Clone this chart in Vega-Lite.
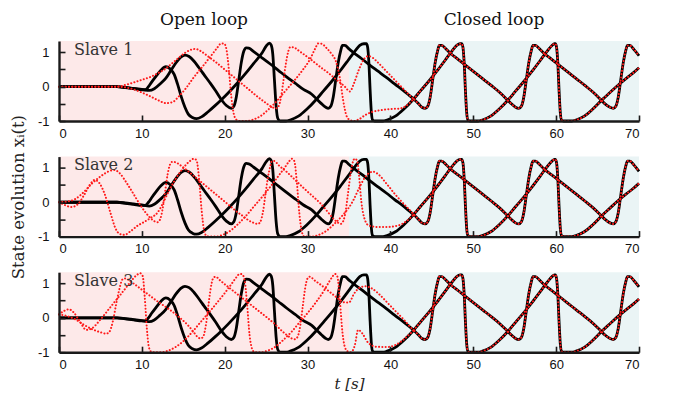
{
  "$schema": "https://vega.github.io/schema/vega-lite/v6.json",
  "background": "white",
  "padding": {"left": 10, "top": 10, "right": 5, "bottom": 5},
  "config": {
    "view": {"stroke": null},
    "axis": {"grid": false, "domainColor": "#1a1a1a", "domainWidth": 2.4, "tickColor": "#1a1a1a", "tickWidth": 1.6, "labelFont": "Liberation Sans", "labelFontSize": 13, "labelColor": "#111", "titleFont": "DejaVu Serif", "titleFontSize": 15, "titleFontWeight": "normal", "titleColor": "#222"}
  },
  "datasets": {
    "bands": [{"a": 0, "b": 35, "ph": "open"}, {"a": 35, "b": 70, "ph": "closed"}],
    "black": [
      {"c":"C1","t":0,"x":0},{"c":"C1","t":3,"x":0},{"c":"C1","t":6,"x":0},{"c":"C1","t":7,"x":0},{"c":"C1","t":8,"x":-0.03},{"c":"C1","t":9,"x":-0.06},{"c":"C1","t":10,"x":-0.09},{"c":"C1","t":10.4,"x":-0.09},{"c":"C1","t":10.8,"x":0.0},{"c":"C1","t":11.2,"x":0.14},{"c":"C1","t":11.7,"x":0.3},{"c":"C1","t":12.3,"x":0.48},{"c":"C1","t":12.9,"x":0.58},{"c":"C1","t":13.4,"x":0.52},{"c":"C1","t":13.9,"x":0.36},{"c":"C1","t":14.3,"x":0.08},{"c":"C1","t":14.75,"x":-0.29},{"c":"C1","t":15.2,"x":-0.6},{"c":"C1","t":15.6,"x":-0.8},{"c":"C1","t":16.1,"x":-0.9},{"c":"C1","t":16.6,"x":-0.93},{"c":"C1","t":17.2,"x":-0.88},{"c":"C1","t":18,"x":-0.73},{"c":"C1","t":18.8,"x":-0.56},{"c":"C1","t":19.6,"x":-0.38},{"c":"C1","t":20.5,"x":-0.16},{"c":"C1","t":21.5,"x":0.1},{"c":"C1","t":22.5,"x":0.38},{"c":"C1","t":23.5,"x":0.68},{"c":"C1","t":24.5,"x":0.98},{"c":"C1","t":25.0,"x":1.18},{"c":"C1","t":25.4,"x":1.27},{"c":"C1","t":25.6,"x":1.22},{"c":"C1","t":25.8,"x":0.95},{"c":"C1","t":26.0,"x":0.2},{"c":"C1","t":26.2,"x":-0.55},{"c":"C1","t":26.4,"x":-0.92},{"c":"C1","t":26.7,"x":-1.0},{"c":"C1","t":27.4,"x":-1.0},{"c":"C1","t":27.9,"x":-0.97},{"c":"C1","t":28.9,"x":-0.86},{"c":"C1","t":29.9,"x":-0.66},{"c":"C1","t":31.1,"x":-0.36},{"c":"C1","t":31.9,"x":-0.13},{"c":"C1","t":32.9,"x":0.15},{"c":"C1","t":33.9,"x":0.45},{"c":"C1","t":34.9,"x":0.77},{"c":"C1","t":35.7,"x":1.03},{"c":"C1","t":36.3,"x":1.2},{"c":"C1","t":36.8,"x":1.25},{"c":"C1","t":37.1,"x":1.25},{"c":"C1","t":37.25,"x":1.15},{"c":"C1","t":37.4,"x":0.7},{"c":"C1","t":37.55,"x":-0.1},{"c":"C1","t":37.7,"x":-0.75},{"c":"C1","t":37.85,"x":-0.97},{"c":"C1","t":38.1,"x":-1.0},{"c":"C1","t":39.1,"x":-1.0},{"c":"C1","t":39.6,"x":-0.97},{"c":"C1","t":40.6,"x":-0.86},{"c":"C1","t":41.6,"x":-0.66},{"c":"C1","t":42.8,"x":-0.36},{"c":"C1","t":43.6,"x":-0.13},{"c":"C1","t":44.6,"x":0.15},{"c":"C1","t":45.6,"x":0.45},{"c":"C1","t":46.6,"x":0.77},{"c":"C1","t":47.4,"x":1.03},{"c":"C1","t":48.0,"x":1.2},{"c":"C1","t":48.4,"x":1.25},{"c":"C1","t":48.6,"x":1.25},{"c":"C1","t":48.75,"x":1.15},{"c":"C1","t":48.9,"x":0.7},{"c":"C1","t":49.05,"x":-0.1},{"c":"C1","t":49.2,"x":-0.75},{"c":"C1","t":49.35,"x":-0.97},{"c":"C1","t":49.6,"x":-1.0},{"c":"C1","t":50.6,"x":-1.0},{"c":"C1","t":51.1,"x":-0.97},{"c":"C1","t":52.1,"x":-0.86},{"c":"C1","t":53.1,"x":-0.66},{"c":"C1","t":54.3,"x":-0.36},{"c":"C1","t":55.1,"x":-0.13},{"c":"C1","t":56.1,"x":0.15},{"c":"C1","t":57.1,"x":0.45},{"c":"C1","t":58.1,"x":0.77},{"c":"C1","t":58.9,"x":1.03},{"c":"C1","t":59.5,"x":1.2},{"c":"C1","t":59.8,"x":1.25},{"c":"C1","t":59.9,"x":1.25},{"c":"C1","t":60.05,"x":1.15},{"c":"C1","t":60.2,"x":0.7},{"c":"C1","t":60.35,"x":-0.1},{"c":"C1","t":60.5,"x":-0.75},{"c":"C1","t":60.65,"x":-0.97},{"c":"C1","t":60.9,"x":-1.0},{"c":"C1","t":61.9,"x":-1.0},{"c":"C1","t":62.4,"x":-0.97},{"c":"C1","t":63.4,"x":-0.86},{"c":"C1","t":64.4,"x":-0.66},{"c":"C1","t":65.6,"x":-0.37},{"c":"C1","t":66.5,"x":-0.17},{"c":"C1","t":67.5,"x":0.05},{"c":"C1","t":68.5,"x":0.25},{"c":"C1","t":69.3,"x":0.4},{"c":"C1","t":70,"x":0.55},
      {"c":"C2","t":0,"x":0},{"c":"C2","t":3,"x":0},{"c":"C2","t":6,"x":0},{"c":"C2","t":7,"x":0},{"c":"C2","t":8,"x":-0.02},{"c":"C2","t":9,"x":-0.05},{"c":"C2","t":10,"x":-0.08},{"c":"C2","t":10.9,"x":-0.11},{"c":"C2","t":11.5,"x":-0.06},{"c":"C2","t":12.2,"x":0.08},{"c":"C2","t":12.9,"x":0.25},{"c":"C2","t":13.5,"x":0.47},{"c":"C2","t":14.1,"x":0.69},{"c":"C2","t":14.7,"x":0.86},{"c":"C2","t":15.2,"x":0.92},{"c":"C2","t":15.7,"x":0.88},{"c":"C2","t":16.3,"x":0.74},{"c":"C2","t":16.9,"x":0.55},{"c":"C2","t":17.5,"x":0.35},{"c":"C2","t":18.2,"x":0.12},{"c":"C2","t":18.9,"x":-0.12},{"c":"C2","t":19.6,"x":-0.38},{"c":"C2","t":20.2,"x":-0.55},{"c":"C2","t":20.8,"x":-0.63},{"c":"C2","t":21.1,"x":-0.57},{"c":"C2","t":21.4,"x":-0.3},{"c":"C2","t":21.7,"x":0.2},{"c":"C2","t":22.0,"x":0.7},{"c":"C2","t":22.3,"x":1.03},{"c":"C2","t":22.6,"x":1.13},{"c":"C2","t":22.9,"x":1.12},{"c":"C2","t":23.5,"x":1.02},{"c":"C2","t":24.5,"x":0.84},{"c":"C2","t":25.5,"x":0.66},{"c":"C2","t":26.5,"x":0.47},{"c":"C2","t":27.5,"x":0.28},{"c":"C2","t":28.5,"x":0.1},{"c":"C2","t":29.5,"x":-0.08},{"c":"C2","t":30.5,"x":-0.22},{"c":"C2","t":31.1,"x":-0.36},{"c":"C2","t":31.7,"x":-0.5},{"c":"C2","t":32.2,"x":-0.6},{"c":"C2","t":32.5,"x":-0.63},{"c":"C2","t":32.8,"x":-0.57},{"c":"C2","t":33.1,"x":-0.3},{"c":"C2","t":33.4,"x":0.2},{"c":"C2","t":33.7,"x":0.7},{"c":"C2","t":34.0,"x":1.05},{"c":"C2","t":34.2,"x":1.2},{"c":"C2","t":34.5,"x":1.2},{"c":"C2","t":35.0,"x":1.1},{"c":"C2","t":35.5,"x":1.0},{"c":"C2","t":36.5,"x":0.82},{"c":"C2","t":37.5,"x":0.63},{"c":"C2","t":38.5,"x":0.45},{"c":"C2","t":39.5,"x":0.27},{"c":"C2","t":40.5,"x":0.08},{"c":"C2","t":41.5,"x":-0.1},{"c":"C2","t":42.3,"x":-0.26},{"c":"C2","t":42.9,"x":-0.38},{"c":"C2","t":43.4,"x":-0.5},{"c":"C2","t":43.8,"x":-0.6},{"c":"C2","t":44.2,"x":-0.63},{"c":"C2","t":44.5,"x":-0.57},{"c":"C2","t":44.8,"x":-0.3},{"c":"C2","t":45.1,"x":0.2},{"c":"C2","t":45.4,"x":0.7},{"c":"C2","t":45.7,"x":1.05},{"c":"C2","t":45.9,"x":1.2},{"c":"C2","t":46.2,"x":1.2},{"c":"C2","t":46.7,"x":1.1},{"c":"C2","t":47.2,"x":0.98},{"c":"C2","t":48.2,"x":0.79},{"c":"C2","t":49.2,"x":0.6},{"c":"C2","t":50.2,"x":0.41},{"c":"C2","t":51.2,"x":0.22},{"c":"C2","t":52.2,"x":0.03},{"c":"C2","t":53.2,"x":-0.17},{"c":"C2","t":54.1,"x":-0.38},{"c":"C2","t":54.6,"x":-0.5},{"c":"C2","t":55.1,"x":-0.6},{"c":"C2","t":55.5,"x":-0.63},{"c":"C2","t":55.8,"x":-0.57},{"c":"C2","t":56.1,"x":-0.3},{"c":"C2","t":56.4,"x":0.2},{"c":"C2","t":56.7,"x":0.7},{"c":"C2","t":57.0,"x":1.05},{"c":"C2","t":57.2,"x":1.2},{"c":"C2","t":57.5,"x":1.2},{"c":"C2","t":58.0,"x":1.1},{"c":"C2","t":58.5,"x":0.98},{"c":"C2","t":59.5,"x":0.79},{"c":"C2","t":60.5,"x":0.6},{"c":"C2","t":61.5,"x":0.41},{"c":"C2","t":62.5,"x":0.22},{"c":"C2","t":63.5,"x":0.03},{"c":"C2","t":64.5,"x":-0.17},{"c":"C2","t":65.4,"x":-0.38},{"c":"C2","t":65.9,"x":-0.5},{"c":"C2","t":66.5,"x":-0.6},{"c":"C2","t":66.9,"x":-0.63},{"c":"C2","t":67.2,"x":-0.57},{"c":"C2","t":67.5,"x":-0.3},{"c":"C2","t":67.8,"x":0.2},{"c":"C2","t":68.1,"x":0.7},{"c":"C2","t":68.4,"x":1.05},{"c":"C2","t":68.6,"x":1.2},{"c":"C2","t":68.9,"x":1.2},{"c":"C2","t":69.4,"x":1.08},{"c":"C2","t":70,"x":0.9}
    ],
    "red": [
      {"p":1,"c":"R1","t":0,"x":0},{"p":1,"c":"R1","t":3,"x":0},{"p":1,"c":"R1","t":6,"x":0},{"p":1,"c":"R1","t":7,"x":0},{"p":1,"c":"R1","t":8,"x":-0.02},{"p":1,"c":"R1","t":9,"x":-0.08},{"p":1,"c":"R1","t":10,"x":-0.17},{"p":1,"c":"R1","t":11,"x":-0.28},{"p":1,"c":"R1","t":12,"x":-0.4},{"p":1,"c":"R1","t":12.9,"x":-0.48},{"p":1,"c":"R1","t":13.7,"x":-0.45},{"p":1,"c":"R1","t":14.4,"x":-0.3},{"p":1,"c":"R1","t":15.3,"x":-0.05},{"p":1,"c":"R1","t":16.2,"x":0.25},{"p":1,"c":"R1","t":17.2,"x":0.55},{"p":1,"c":"R1","t":18.2,"x":0.85},{"p":1,"c":"R1","t":19.0,"x":1.1},{"p":1,"c":"R1","t":19.6,"x":1.26},{"p":1,"c":"R1","t":19.9,"x":1.26},{"p":1,"c":"R1","t":20.2,"x":1.1},{"p":1,"c":"R1","t":20.5,"x":0.5},{"p":1,"c":"R1","t":20.8,"x":-0.3},{"p":1,"c":"R1","t":21.1,"x":-0.8},{"p":1,"c":"R1","t":21.4,"x":-0.96},{"p":1,"c":"R1","t":21.8,"x":-1.0},{"p":1,"c":"R1","t":22.8,"x":-1.0},{"p":1,"c":"R1","t":23.3,"x":-0.97},{"p":1,"c":"R1","t":24.3,"x":-0.86},{"p":1,"c":"R1","t":25.3,"x":-0.66},{"p":1,"c":"R1","t":26.5,"x":-0.36},{"p":1,"c":"R1","t":27.3,"x":-0.13},{"p":1,"c":"R1","t":28.3,"x":0.15},{"p":1,"c":"R1","t":29.3,"x":0.45},{"p":1,"c":"R1","t":30.3,"x":0.8},{"p":1,"c":"R1","t":30.9,"x":1.1},{"p":1,"c":"R1","t":31.3,"x":1.26},{"p":1,"c":"R1","t":31.7,"x":1.25},{"p":1,"c":"R1","t":32.3,"x":1.12},{"p":1,"c":"R1","t":32.9,"x":0.95},{"p":1,"c":"R1","t":33.4,"x":0.75},{"p":1,"c":"R1","t":33.9,"x":0.25},{"p":1,"c":"R1","t":34.3,"x":-0.4},{"p":1,"c":"R1","t":34.7,"x":-0.85},{"p":1,"c":"R1","t":35.1,"x":-0.97},{"p":1,"c":"R1","t":35.6,"x":-1.0},{"p":1,"c":"R1","t":36.2,"x":-0.95},{"p":1,"c":"R1","t":37.0,"x":-0.82},{"p":1,"c":"R1","t":37.9,"x":-0.73},{"p":1,"c":"R1","t":39.0,"x":-0.68},{"p":1,"c":"R1","t":40.0,"x":-0.65},{"p":1,"c":"R1","t":41.0,"x":-0.64},{"p":1,"c":"R1","t":41.6,"x":-0.6},{"p":1,"c":"R1","t":42.3,"x":-0.48},{"p":1,"c":"R1","t":42.8,"x":-0.36},
      {"p":1,"c":"R2","t":0,"x":0},{"p":1,"c":"R2","t":3,"x":0},{"p":1,"c":"R2","t":6,"x":0},{"p":1,"c":"R2","t":7,"x":0},{"p":1,"c":"R2","t":8,"x":0.05},{"p":1,"c":"R2","t":9,"x":0.12},{"p":1,"c":"R2","t":10,"x":0.2},{"p":1,"c":"R2","t":11,"x":0.28},{"p":1,"c":"R2","t":12,"x":0.4},{"p":1,"c":"R2","t":13,"x":0.55},{"p":1,"c":"R2","t":13.7,"x":0.69},{"p":1,"c":"R2","t":14.5,"x":0.85},{"p":1,"c":"R2","t":15.3,"x":1.0},{"p":1,"c":"R2","t":16.0,"x":1.08},{"p":1,"c":"R2","t":16.5,"x":1.1},{"p":1,"c":"R2","t":17.0,"x":1.05},{"p":1,"c":"R2","t":18,"x":0.88},{"p":1,"c":"R2","t":19,"x":0.7},{"p":1,"c":"R2","t":20,"x":0.5},{"p":1,"c":"R2","t":21,"x":0.3},{"p":1,"c":"R2","t":22,"x":0.1},{"p":1,"c":"R2","t":23,"x":-0.1},{"p":1,"c":"R2","t":24,"x":-0.3},{"p":1,"c":"R2","t":25,"x":-0.48},{"p":1,"c":"R2","t":25.6,"x":-0.58},{"p":1,"c":"R2","t":26.2,"x":-0.63},{"p":1,"c":"R2","t":26.5,"x":-0.57},{"p":1,"c":"R2","t":26.8,"x":-0.3},{"p":1,"c":"R2","t":27.1,"x":0.2},{"p":1,"c":"R2","t":27.4,"x":0.7},{"p":1,"c":"R2","t":27.7,"x":1.05},{"p":1,"c":"R2","t":27.9,"x":1.15},{"p":1,"c":"R2","t":28.3,"x":1.15},{"p":1,"c":"R2","t":28.8,"x":1.07},{"p":1,"c":"R2","t":29.5,"x":0.95},{"p":1,"c":"R2","t":30.5,"x":0.77},{"p":1,"c":"R2","t":31.5,"x":0.58},{"p":1,"c":"R2","t":32.5,"x":0.4},{"p":1,"c":"R2","t":33.5,"x":0.2},{"p":1,"c":"R2","t":34.5,"x":0.0},{"p":1,"c":"R2","t":35.1,"x":-0.14},{"p":1,"c":"R2","t":35.6,"x":0.1},{"p":1,"c":"R2","t":36.2,"x":0.5},{"p":1,"c":"R2","t":36.8,"x":0.8},{"p":1,"c":"R2","t":37.3,"x":0.89},{"p":1,"c":"R2","t":37.8,"x":0.85},{"p":1,"c":"R2","t":38.5,"x":0.7},{"p":1,"c":"R2","t":39.5,"x":0.45},{"p":1,"c":"R2","t":40.5,"x":0.2},{"p":1,"c":"R2","t":41.5,"x":-0.05},{"p":1,"c":"R2","t":42.3,"x":-0.25},{"p":1,"c":"R2","t":42.9,"x":-0.38},
      {"p":2,"c":"R1","t":0,"x":0},{"p":2,"c":"R1","t":0.7,"x":-0.08},{"p":2,"c":"R1","t":1.5,"x":-0.14},{"p":2,"c":"R1","t":2.3,"x":-0.05},{"p":2,"c":"R1","t":3.0,"x":0.2},{"p":2,"c":"R1","t":3.7,"x":0.5},{"p":2,"c":"R1","t":4.3,"x":0.65},{"p":2,"c":"R1","t":4.9,"x":0.55},{"p":2,"c":"R1","t":5.5,"x":0.25},{"p":2,"c":"R1","t":6.2,"x":-0.3},{"p":2,"c":"R1","t":6.8,"x":-0.75},{"p":2,"c":"R1","t":7.3,"x":-0.92},{"p":2,"c":"R1","t":7.9,"x":-0.95},{"p":2,"c":"R1","t":8.6,"x":-0.85},{"p":2,"c":"R1","t":9.5,"x":-0.68},{"p":2,"c":"R1","t":10.3,"x":-0.57},{"p":2,"c":"R1","t":11.1,"x":-0.45},{"p":2,"c":"R1","t":11.9,"x":-0.3},{"p":2,"c":"R1","t":12.5,"x":-0.05},{"p":2,"c":"R1","t":13.2,"x":0.3},{"p":2,"c":"R1","t":14.0,"x":0.65},{"p":2,"c":"R1","t":15.0,"x":1.0},{"p":2,"c":"R1","t":15.8,"x":1.2},{"p":2,"c":"R1","t":16.3,"x":1.27},{"p":2,"c":"R1","t":16.6,"x":1.22},{"p":2,"c":"R1","t":16.9,"x":0.7},{"p":2,"c":"R1","t":17.2,"x":-0.2},{"p":2,"c":"R1","t":17.5,"x":-0.8},{"p":2,"c":"R1","t":17.8,"x":-0.98},{"p":2,"c":"R1","t":18.2,"x":-1.0},{"p":2,"c":"R1","t":19.0,"x":-1.0},{"p":2,"c":"R1","t":19.5,"x":-0.97},{"p":2,"c":"R1","t":20.5,"x":-0.86},{"p":2,"c":"R1","t":21.5,"x":-0.66},{"p":2,"c":"R1","t":22.7,"x":-0.36},{"p":2,"c":"R1","t":23.5,"x":-0.13},{"p":2,"c":"R1","t":24.5,"x":0.15},{"p":2,"c":"R1","t":25.5,"x":0.45},{"p":2,"c":"R1","t":26.5,"x":0.77},{"p":2,"c":"R1","t":27.3,"x":1.03},{"p":2,"c":"R1","t":27.8,"x":1.2},{"p":2,"c":"R1","t":28.1,"x":1.27},{"p":2,"c":"R1","t":28.4,"x":1.2},{"p":2,"c":"R1","t":28.7,"x":0.6},{"p":2,"c":"R1","t":29.0,"x":-0.3},{"p":2,"c":"R1","t":29.3,"x":-0.85},{"p":2,"c":"R1","t":29.6,"x":-1.0},{"p":2,"c":"R1","t":30.6,"x":-1.0},{"p":2,"c":"R1","t":31.1,"x":-0.97},{"p":2,"c":"R1","t":32.1,"x":-0.86},{"p":2,"c":"R1","t":33.1,"x":-0.66},{"p":2,"c":"R1","t":34.3,"x":-0.36},{"p":2,"c":"R1","t":35.0,"x":-0.15},{"p":2,"c":"R1","t":35.5,"x":0.05},{"p":2,"c":"R1","t":36.2,"x":0.4},{"p":2,"c":"R1","t":37.0,"x":0.75},{"p":2,"c":"R1","t":37.9,"x":0.89},{"p":2,"c":"R1","t":38.6,"x":0.8},{"p":2,"c":"R1","t":39.5,"x":0.55},{"p":2,"c":"R1","t":40.5,"x":0.25},{"p":2,"c":"R1","t":41.5,"x":-0.02},{"p":2,"c":"R1","t":42.3,"x":-0.22},{"p":2,"c":"R1","t":42.9,"x":-0.38},
      {"p":2,"c":"R2","t":0,"x":0},{"p":2,"c":"R2","t":1,"x":0.02},{"p":2,"c":"R2","t":2,"x":0.1},{"p":2,"c":"R2","t":3,"x":0.3},{"p":2,"c":"R2","t":4,"x":0.55},{"p":2,"c":"R2","t":5,"x":0.75},{"p":2,"c":"R2","t":6,"x":0.9},{"p":2,"c":"R2","t":6.7,"x":0.94},{"p":2,"c":"R2","t":7.3,"x":0.85},{"p":2,"c":"R2","t":8.2,"x":0.55},{"p":2,"c":"R2","t":9.1,"x":0.2},{"p":2,"c":"R2","t":10.0,"x":-0.15},{"p":2,"c":"R2","t":11.0,"x":-0.45},{"p":2,"c":"R2","t":11.5,"x":-0.55},{"p":2,"c":"R2","t":11.9,"x":-0.58},{"p":2,"c":"R2","t":12.2,"x":-0.5},{"p":2,"c":"R2","t":12.5,"x":-0.2},{"p":2,"c":"R2","t":12.8,"x":0.3},{"p":2,"c":"R2","t":13.1,"x":0.8},{"p":2,"c":"R2","t":13.4,"x":1.1},{"p":2,"c":"R2","t":13.7,"x":1.18},{"p":2,"c":"R2","t":14.2,"x":1.15},{"p":2,"c":"R2","t":14.8,"x":1.05},{"p":2,"c":"R2","t":15.5,"x":0.92},{"p":2,"c":"R2","t":16.5,"x":0.72},{"p":2,"c":"R2","t":17.5,"x":0.52},{"p":2,"c":"R2","t":18.5,"x":0.32},{"p":2,"c":"R2","t":19.5,"x":0.12},{"p":2,"c":"R2","t":20.5,"x":-0.08},{"p":2,"c":"R2","t":21.5,"x":-0.28},{"p":2,"c":"R2","t":22.3,"x":-0.42},{"p":2,"c":"R2","t":22.9,"x":-0.53},{"p":2,"c":"R2","t":23.5,"x":-0.6},{"p":2,"c":"R2","t":24.0,"x":-0.63},{"p":2,"c":"R2","t":24.3,"x":-0.57},{"p":2,"c":"R2","t":24.6,"x":-0.3},{"p":2,"c":"R2","t":24.9,"x":0.2},{"p":2,"c":"R2","t":25.2,"x":0.7},{"p":2,"c":"R2","t":25.5,"x":1.05},{"p":2,"c":"R2","t":25.7,"x":1.2},{"p":2,"c":"R2","t":26.0,"x":1.2},{"p":2,"c":"R2","t":26.5,"x":1.08},{"p":2,"c":"R2","t":27.5,"x":0.88},{"p":2,"c":"R2","t":28.5,"x":0.65},{"p":2,"c":"R2","t":29.5,"x":0.42},{"p":2,"c":"R2","t":30.5,"x":0.2},{"p":2,"c":"R2","t":31.5,"x":-0.02},{"p":2,"c":"R2","t":32.5,"x":-0.3},{"p":2,"c":"R2","t":33.2,"x":-0.5},{"p":2,"c":"R2","t":33.7,"x":-0.6},{"p":2,"c":"R2","t":34.0,"x":-0.63},{"p":2,"c":"R2","t":34.3,"x":-0.55},{"p":2,"c":"R2","t":34.6,"x":-0.25},{"p":2,"c":"R2","t":34.9,"x":0.3},{"p":2,"c":"R2","t":35.2,"x":0.85},{"p":2,"c":"R2","t":35.5,"x":1.2},{"p":2,"c":"R2","t":35.7,"x":1.27},{"p":2,"c":"R2","t":36.0,"x":1.2},{"p":2,"c":"R2","t":36.2,"x":0.8},{"p":2,"c":"R2","t":36.5,"x":0.0},{"p":2,"c":"R2","t":36.9,"x":-0.5},{"p":2,"c":"R2","t":37.4,"x":-0.68},{"p":2,"c":"R2","t":38.5,"x":-0.72},{"p":2,"c":"R2","t":39.5,"x":-0.72},{"p":2,"c":"R2","t":40.5,"x":-0.7},{"p":2,"c":"R2","t":41.5,"x":-0.62},{"p":2,"c":"R2","t":42.3,"x":-0.48},{"p":2,"c":"R2","t":42.8,"x":-0.36},
      {"p":3,"c":"R1","t":0,"x":0.1},{"p":3,"c":"R1","t":0.6,"x":0.2},{"p":3,"c":"R1","t":1.2,"x":0.25},{"p":3,"c":"R1","t":1.8,"x":0.15},{"p":3,"c":"R1","t":2.5,"x":-0.1},{"p":3,"c":"R1","t":3.3,"x":-0.35},{"p":3,"c":"R1","t":4.0,"x":-0.3},{"p":3,"c":"R1","t":5.0,"x":-0.05},{"p":3,"c":"R1","t":6.0,"x":0.25},{"p":3,"c":"R1","t":7.0,"x":0.55},{"p":3,"c":"R1","t":8.0,"x":0.85},{"p":3,"c":"R1","t":8.8,"x":1.1},{"p":3,"c":"R1","t":9.4,"x":1.25},{"p":3,"c":"R1","t":9.8,"x":1.3},{"p":3,"c":"R1","t":10.1,"x":1.22},{"p":3,"c":"R1","t":10.35,"x":0.6},{"p":3,"c":"R1","t":10.6,"x":-0.3},{"p":3,"c":"R1","t":10.85,"x":-0.85},{"p":3,"c":"R1","t":11.1,"x":-0.98},{"p":3,"c":"R1","t":11.5,"x":-1.0},{"p":3,"c":"R1","t":12.5,"x":-1.0},{"p":3,"c":"R1","t":13.0,"x":-0.97},{"p":3,"c":"R1","t":14.0,"x":-0.86},{"p":3,"c":"R1","t":15.0,"x":-0.68},{"p":3,"c":"R1","t":16.2,"x":-0.38},{"p":3,"c":"R1","t":17.0,"x":-0.15},{"p":3,"c":"R1","t":18.0,"x":0.13},{"p":3,"c":"R1","t":19.0,"x":0.42},{"p":3,"c":"R1","t":20.0,"x":0.72},{"p":3,"c":"R1","t":20.8,"x":0.98},{"p":3,"c":"R1","t":21.4,"x":1.18},{"p":3,"c":"R1","t":21.8,"x":1.28},{"p":3,"c":"R1","t":22.1,"x":1.27},{"p":3,"c":"R1","t":22.4,"x":1.1},{"p":3,"c":"R1","t":22.7,"x":0.4},{"p":3,"c":"R1","t":23.0,"x":-0.5},{"p":3,"c":"R1","t":23.3,"x":-0.9},{"p":3,"c":"R1","t":23.6,"x":-1.0},{"p":3,"c":"R1","t":24.5,"x":-1.0},{"p":3,"c":"R1","t":25.0,"x":-0.97},{"p":3,"c":"R1","t":26.0,"x":-0.86},{"p":3,"c":"R1","t":27.0,"x":-0.66},{"p":3,"c":"R1","t":28.2,"x":-0.37},{"p":3,"c":"R1","t":29.0,"x":-0.14},{"p":3,"c":"R1","t":30.0,"x":0.14},{"p":3,"c":"R1","t":31.0,"x":0.45},{"p":3,"c":"R1","t":32.0,"x":0.8},{"p":3,"c":"R1","t":32.6,"x":1.05},{"p":3,"c":"R1","t":33.0,"x":1.2},{"p":3,"c":"R1","t":33.3,"x":1.28},{"p":3,"c":"R1","t":33.6,"x":1.2},{"p":3,"c":"R1","t":33.9,"x":0.5},{"p":3,"c":"R1","t":34.2,"x":-0.4},{"p":3,"c":"R1","t":34.5,"x":-0.85},{"p":3,"c":"R1","t":34.8,"x":-0.97},{"p":3,"c":"R1","t":35.2,"x":-1.0},{"p":3,"c":"R1","t":35.7,"x":-0.8},{"p":3,"c":"R1","t":36.1,"x":-0.35},{"p":3,"c":"R1","t":36.6,"x":-0.45},{"p":3,"c":"R1","t":37.3,"x":-0.72},{"p":3,"c":"R1","t":38.3,"x":-0.84},{"p":3,"c":"R1","t":39.5,"x":-0.85},{"p":3,"c":"R1","t":40.5,"x":-0.8},{"p":3,"c":"R1","t":41.5,"x":-0.65},{"p":3,"c":"R1","t":42.3,"x":-0.48},{"p":3,"c":"R1","t":42.8,"x":-0.36},
      {"p":3,"c":"R2","t":0,"x":0.1},{"p":3,"c":"R2","t":1,"x":0.05},{"p":3,"c":"R2","t":2,"x":-0.05},{"p":3,"c":"R2","t":3,"x":-0.2},{"p":3,"c":"R2","t":4,"x":-0.33},{"p":3,"c":"R2","t":5,"x":-0.42},{"p":3,"c":"R2","t":5.7,"x":-0.46},{"p":3,"c":"R2","t":6.1,"x":-0.4},{"p":3,"c":"R2","t":6.5,"x":-0.1},{"p":3,"c":"R2","t":6.9,"x":0.4},{"p":3,"c":"R2","t":7.3,"x":0.85},{"p":3,"c":"R2","t":7.6,"x":1.1},{"p":3,"c":"R2","t":7.9,"x":1.15},{"p":3,"c":"R2","t":8.3,"x":1.12},{"p":3,"c":"R2","t":9.0,"x":1.0},{"p":3,"c":"R2","t":10.0,"x":0.82},{"p":3,"c":"R2","t":11.0,"x":0.64},{"p":3,"c":"R2","t":12.0,"x":0.46},{"p":3,"c":"R2","t":13.3,"x":0.25},{"p":3,"c":"R2","t":14.5,"x":0.02},{"p":3,"c":"R2","t":15.5,"x":-0.2},{"p":3,"c":"R2","t":16.2,"x":-0.4},{"p":3,"c":"R2","t":16.7,"x":-0.55},{"p":3,"c":"R2","t":17.1,"x":-0.6},{"p":3,"c":"R2","t":17.4,"x":-0.55},{"p":3,"c":"R2","t":17.7,"x":-0.25},{"p":3,"c":"R2","t":18.0,"x":0.3},{"p":3,"c":"R2","t":18.3,"x":0.85},{"p":3,"c":"R2","t":18.6,"x":1.15},{"p":3,"c":"R2","t":18.9,"x":1.2},{"p":3,"c":"R2","t":19.4,"x":1.1},{"p":3,"c":"R2","t":20.0,"x":0.98},{"p":3,"c":"R2","t":21.0,"x":0.79},{"p":3,"c":"R2","t":22.0,"x":0.6},{"p":3,"c":"R2","t":23.0,"x":0.41},{"p":3,"c":"R2","t":24.0,"x":0.22},{"p":3,"c":"R2","t":25.0,"x":0.03},{"p":3,"c":"R2","t":26.0,"x":-0.17},{"p":3,"c":"R2","t":26.9,"x":-0.38},{"p":3,"c":"R2","t":27.5,"x":-0.5},{"p":3,"c":"R2","t":28.1,"x":-0.6},{"p":3,"c":"R2","t":28.5,"x":-0.62},{"p":3,"c":"R2","t":28.8,"x":-0.55},{"p":3,"c":"R2","t":29.1,"x":-0.25},{"p":3,"c":"R2","t":29.4,"x":0.3},{"p":3,"c":"R2","t":29.7,"x":0.85},{"p":3,"c":"R2","t":30.0,"x":1.15},{"p":3,"c":"R2","t":30.3,"x":1.2},{"p":3,"c":"R2","t":30.8,"x":1.1},{"p":3,"c":"R2","t":31.5,"x":0.98},{"p":3,"c":"R2","t":32.5,"x":0.79},{"p":3,"c":"R2","t":33.5,"x":0.6},{"p":3,"c":"R2","t":34.5,"x":0.45},{"p":3,"c":"R2","t":35.0,"x":0.45},{"p":3,"c":"R2","t":35.6,"x":0.7},{"p":3,"c":"R2","t":36.3,"x":0.88},{"p":3,"c":"R2","t":37.0,"x":0.92},{"p":3,"c":"R2","t":37.8,"x":0.85},{"p":3,"c":"R2","t":38.8,"x":0.65},{"p":3,"c":"R2","t":39.8,"x":0.4},{"p":3,"c":"R2","t":40.8,"x":0.15},{"p":3,"c":"R2","t":41.8,"x":-0.1},{"p":3,"c":"R2","t":42.4,"x":-0.27},{"p":3,"c":"R2","t":42.9,"x":-0.38}
    ]
  },
  "vconcat": [
    {
      "width": 580, "height": 80,
      "resolve": {"axis": {"x": "independent", "y": "independent"}},
      "layer": [
        {"data": {"name": "bands"}, "mark": {"type": "rect"}, "encoding": {"x": {"field": "a", "type": "quantitative", "scale": {"domain": [0, 70], "nice": false, "zero": false}, "axis": null}, "x2": {"field": "b"}, "color": {"field": "ph", "type": "nominal", "scale": {"domain": ["open", "closed"], "range": ["#fde9e9", "#eaf4f5"]}, "legend": null}}},
        {"data": {"name": "black"}, "mark": {"type": "line", "color": "#000", "strokeWidth": 2.8, "interpolate": "monotone"}, "encoding": {"x": {"field": "t", "type": "quantitative", "scale": {"domain": [0, 70], "nice": false, "zero": false}, "axis": {"title": null, "values": [0, 10, 20, 30, 40, 50, 60, 70], "zindex": 1, "tickSize": -6, "labelPadding": 12}}, "y": {"field": "x", "type": "quantitative", "scale": {"domain": [-1, 1.33], "nice": false, "zero": false}, "axis": {"title": null, "values": [-1, -0.5, 0, 0.5, 1], "zindex": 1, "tickSize": -6, "labelPadding": 16, "labelOverlap": false, "labelExpr": "abs(datum.value) == 0.5 ? '' : datum.value == 0 ? '0' : datum.value == 1 ? '1' : '-1'"}}, "detail": {"field": "c"}}},
        {"data": {"name": "red"}, "transform": [{"filter": "datum.p == 1"}], "mark": {"type": "line", "color": "#ff1a1a", "strokeWidth": 2, "strokeDash": [0.1, 3.2], "strokeCap": "round", "interpolate": "monotone"}, "encoding": {"x": {"field": "t", "type": "quantitative", "axis": null}, "y": {"field": "x", "type": "quantitative", "axis": null}, "detail": {"field": "c"}}},
        {"data": {"name": "black"}, "transform": [{"filter": "datum.t >= 42.8"}], "mark": {"type": "line", "color": "#ff1a1a", "strokeWidth": 2, "strokeDash": [0.1, 3.2], "strokeCap": "round", "interpolate": "monotone"}, "encoding": {"x": {"field": "t", "type": "quantitative", "axis": null}, "y": {"field": "x", "type": "quantitative", "axis": null}, "detail": {"field": "c"}}},
        {"data": {"values": [{}]}, "mark": {"type": "text", "font": "DejaVu Serif", "fontSize": 16, "color": "#333", "align": "left", "baseline": "middle"}, "encoding": {"x": {"datum": 1.8, "type": "quantitative", "axis": null}, "y": {"datum": 1.08, "type": "quantitative", "axis": null}, "text": {"value": "Slave 1"}}},
        {"data": {"values": [{}]}, "mark": {"type": "text", "font": "DejaVu Serif", "fontSize": 17, "color": "#111", "align": "center", "baseline": "middle"}, "encoding": {"x": {"datum": 17.5, "type": "quantitative", "axis": null}, "y": {"datum": 1.95, "type": "quantitative", "axis": null}, "text": {"value": "Open loop"}}},
        {"data": {"values": [{}]}, "mark": {"type": "text", "font": "DejaVu Serif", "fontSize": 17, "color": "#111", "align": "center", "baseline": "middle"}, "encoding": {"x": {"datum": 52.5, "type": "quantitative", "axis": null}, "y": {"datum": 1.95, "type": "quantitative", "axis": null}, "text": {"value": "Closed loop"}}}
      ]
    },
    {
      "width": 580, "height": 80,
      "resolve": {"axis": {"x": "independent", "y": "independent"}},
      "layer": [
        {"data": {"name": "bands"}, "mark": {"type": "rect"}, "encoding": {"x": {"field": "a", "type": "quantitative", "scale": {"domain": [0, 70], "nice": false, "zero": false}, "axis": null}, "x2": {"field": "b"}, "color": {"field": "ph", "type": "nominal", "scale": {"domain": ["open", "closed"], "range": ["#fde9e9", "#eaf4f5"]}, "legend": null}}},
        {"data": {"name": "black"}, "mark": {"type": "line", "color": "#000", "strokeWidth": 2.8, "interpolate": "monotone"}, "encoding": {"x": {"field": "t", "type": "quantitative", "scale": {"domain": [0, 70], "nice": false, "zero": false}, "axis": {"title": null, "values": [0, 10, 20, 30, 40, 50, 60, 70], "zindex": 1, "tickSize": -6, "labelPadding": 12}}, "y": {"field": "x", "type": "quantitative", "scale": {"domain": [-1, 1.33], "nice": false, "zero": false}, "axis": {"title": "State evolution  xᵢ(t)", "titleFontSize": 16.5, "titlePadding": 11, "values": [-1, -0.5, 0, 0.5, 1], "zindex": 1, "tickSize": -6, "labelPadding": 16, "labelOverlap": false, "labelExpr": "abs(datum.value) == 0.5 ? '' : datum.value == 0 ? '0' : datum.value == 1 ? '1' : '-1'"}}, "detail": {"field": "c"}}},
        {"data": {"name": "red"}, "transform": [{"filter": "datum.p == 2"}], "mark": {"type": "line", "color": "#ff1a1a", "strokeWidth": 2, "strokeDash": [0.1, 3.2], "strokeCap": "round", "interpolate": "monotone"}, "encoding": {"x": {"field": "t", "type": "quantitative", "axis": null}, "y": {"field": "x", "type": "quantitative", "axis": null}, "detail": {"field": "c"}}},
        {"data": {"name": "black"}, "transform": [{"filter": "datum.t >= 42.8"}], "mark": {"type": "line", "color": "#ff1a1a", "strokeWidth": 2, "strokeDash": [0.1, 3.2], "strokeCap": "round", "interpolate": "monotone"}, "encoding": {"x": {"field": "t", "type": "quantitative", "axis": null}, "y": {"field": "x", "type": "quantitative", "axis": null}, "detail": {"field": "c"}}},
        {"data": {"values": [{}]}, "mark": {"type": "text", "font": "DejaVu Serif", "fontSize": 16, "color": "#333", "align": "left", "baseline": "middle"}, "encoding": {"x": {"datum": 1.8, "type": "quantitative", "axis": null}, "y": {"datum": 1.08, "type": "quantitative", "axis": null}, "text": {"value": "Slave 2"}}}
      ]
    },
    {
      "width": 580, "height": 80,
      "resolve": {"axis": {"x": "independent", "y": "independent"}},
      "layer": [
        {"data": {"name": "bands"}, "mark": {"type": "rect"}, "encoding": {"x": {"field": "a", "type": "quantitative", "scale": {"domain": [0, 70], "nice": false, "zero": false}, "axis": null}, "x2": {"field": "b"}, "color": {"field": "ph", "type": "nominal", "scale": {"domain": ["open", "closed"], "range": ["#fde9e9", "#eaf4f5"]}, "legend": null}}},
        {"data": {"name": "black"}, "mark": {"type": "line", "color": "#000", "strokeWidth": 2.8, "interpolate": "monotone"}, "encoding": {"x": {"field": "t", "type": "quantitative", "scale": {"domain": [0, 70], "nice": false, "zero": false}, "axis": {"title": "t [s]", "titleFontStyle": "italic", "titlePadding": 5, "values": [0, 10, 20, 30, 40, 50, 60, 70], "zindex": 1, "tickSize": -6, "labelPadding": 12}}, "y": {"field": "x", "type": "quantitative", "scale": {"domain": [-1, 1.33], "nice": false, "zero": false}, "axis": {"title": null, "values": [-1, -0.5, 0, 0.5, 1], "zindex": 1, "tickSize": -6, "labelPadding": 16, "labelOverlap": false, "labelExpr": "abs(datum.value) == 0.5 ? '' : datum.value == 0 ? '0' : datum.value == 1 ? '1' : '-1'"}}, "detail": {"field": "c"}}},
        {"data": {"name": "red"}, "transform": [{"filter": "datum.p == 3"}], "mark": {"type": "line", "color": "#ff1a1a", "strokeWidth": 2, "strokeDash": [0.1, 3.2], "strokeCap": "round", "interpolate": "monotone"}, "encoding": {"x": {"field": "t", "type": "quantitative", "axis": null}, "y": {"field": "x", "type": "quantitative", "axis": null}, "detail": {"field": "c"}}},
        {"data": {"name": "black"}, "transform": [{"filter": "datum.t >= 42.8"}], "mark": {"type": "line", "color": "#ff1a1a", "strokeWidth": 2, "strokeDash": [0.1, 3.2], "strokeCap": "round", "interpolate": "monotone"}, "encoding": {"x": {"field": "t", "type": "quantitative", "axis": null}, "y": {"field": "x", "type": "quantitative", "axis": null}, "detail": {"field": "c"}}},
        {"data": {"values": [{}]}, "mark": {"type": "text", "font": "DejaVu Serif", "fontSize": 16, "color": "#333", "align": "left", "baseline": "middle"}, "encoding": {"x": {"datum": 1.8, "type": "quantitative", "axis": null}, "y": {"datum": 1.08, "type": "quantitative", "axis": null}, "text": {"value": "Slave 3"}}}
      ]
    }
  ],
  "bounds": "flush",
  "spacing": 35.6
}
